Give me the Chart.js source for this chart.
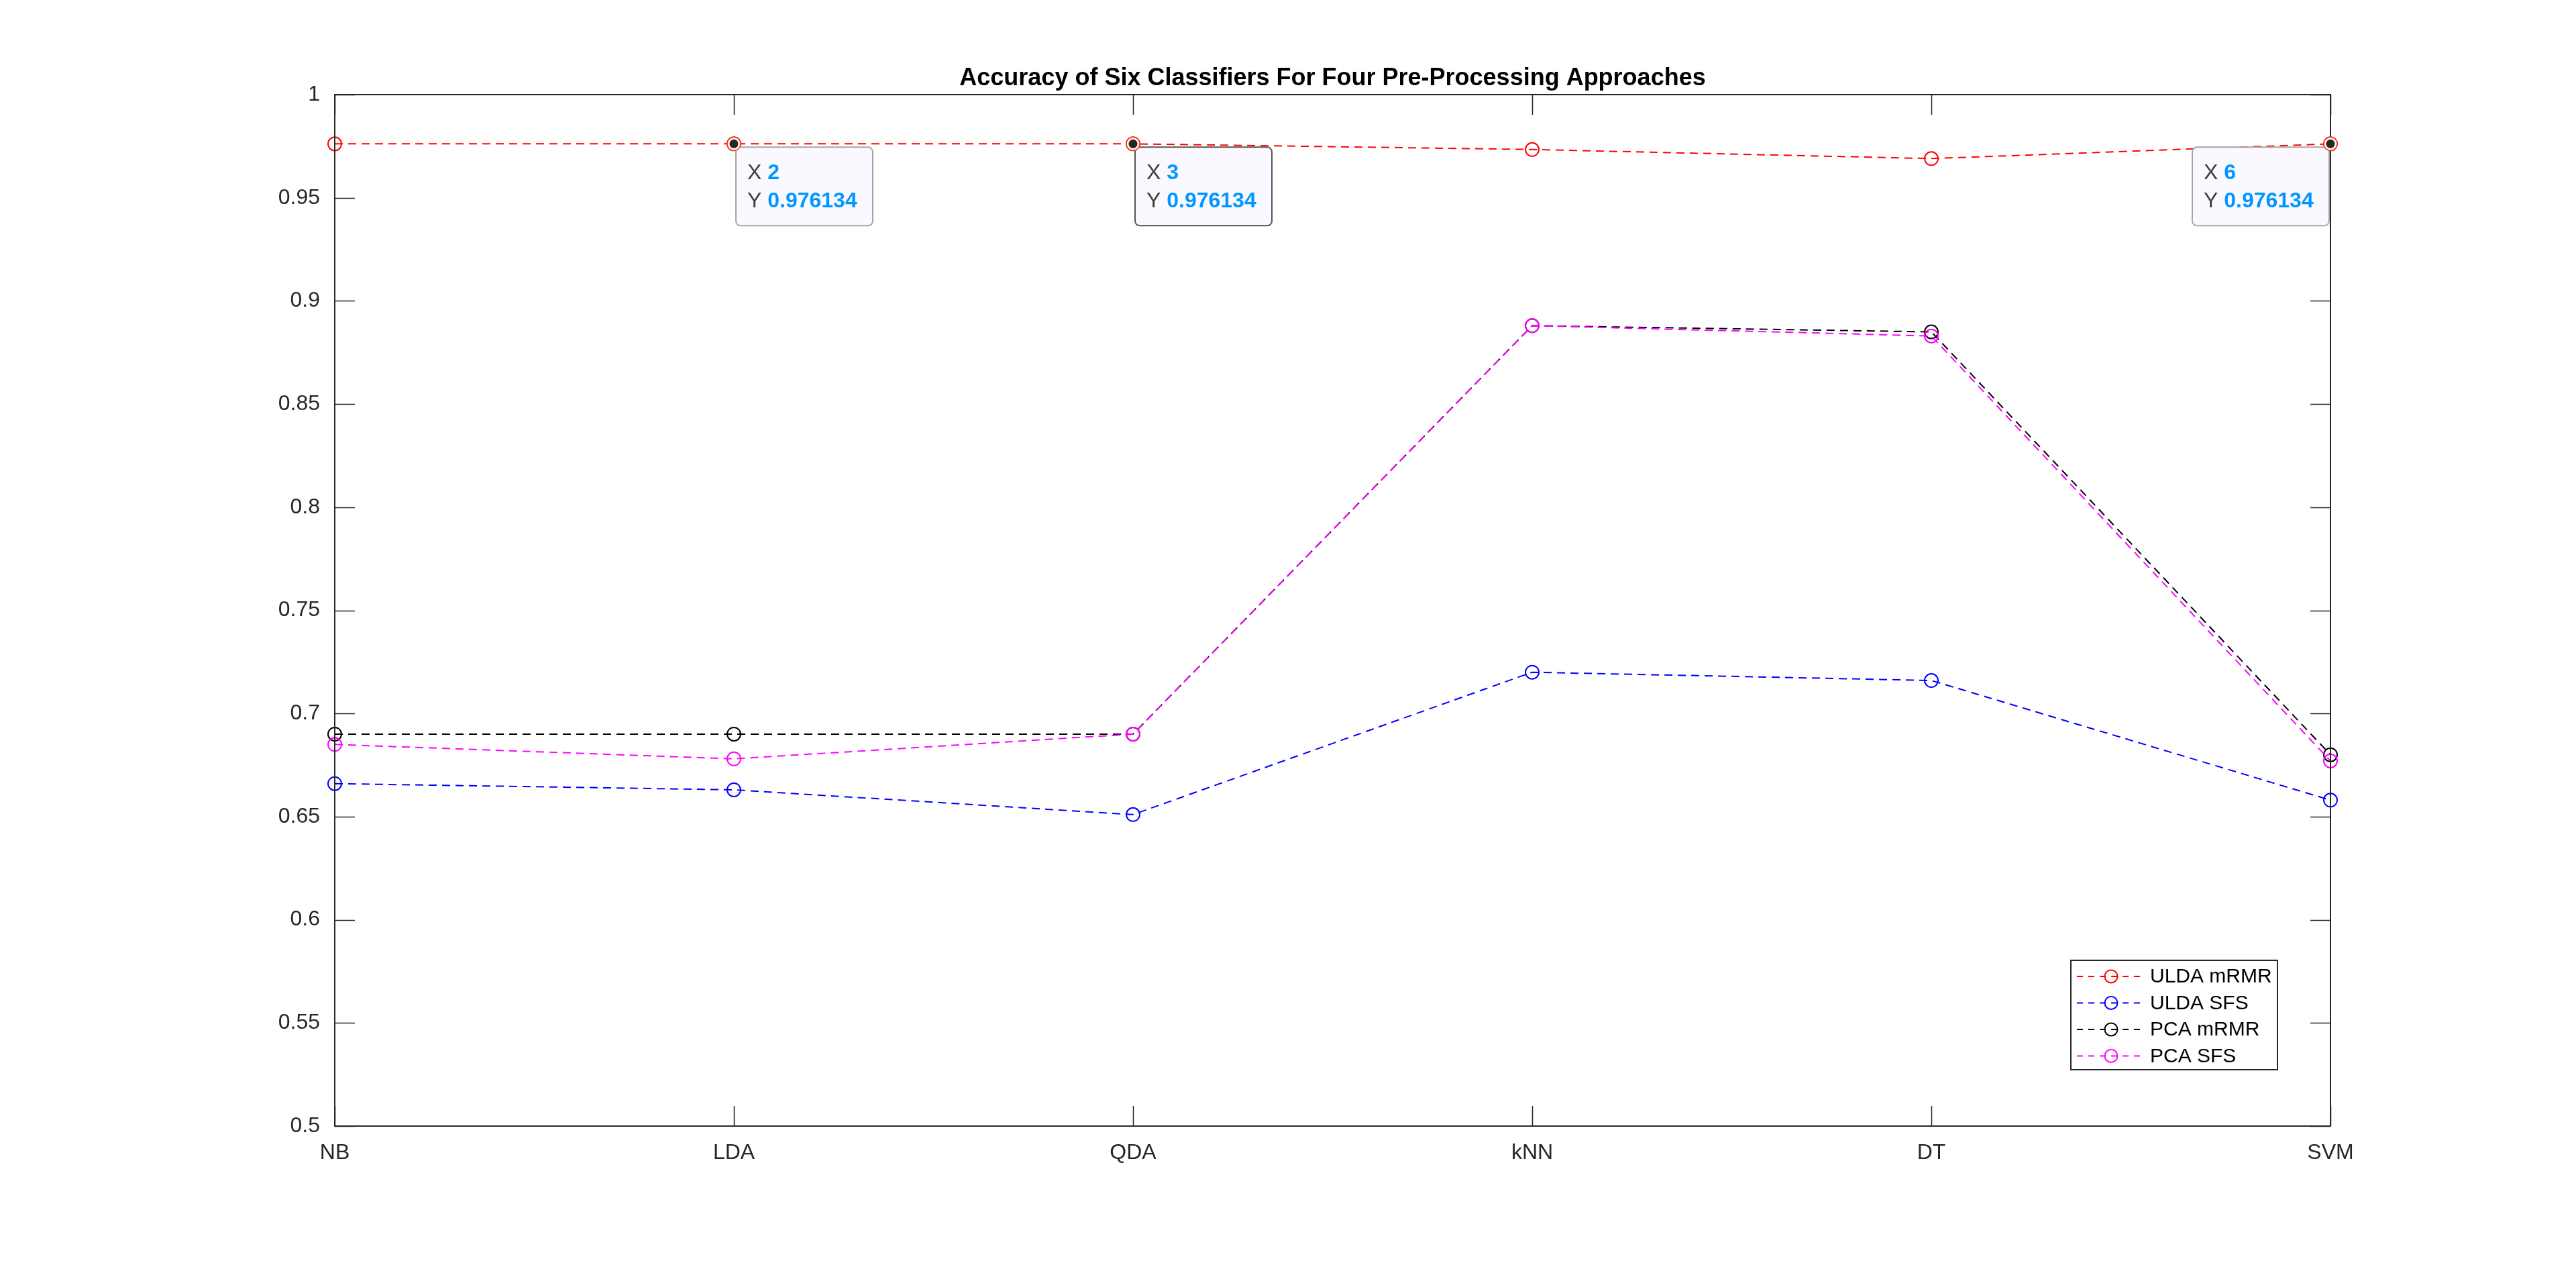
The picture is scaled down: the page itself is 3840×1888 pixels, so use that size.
<!DOCTYPE html>
<html>
<head>
<meta charset="utf-8">
<title>Accuracy of Six Classifiers</title>
<script src="https://cdn.jsdelivr.net/npm/chart.js@4.4.1/dist/chart.umd.min.js"></script>
<style>
  html, body { margin: 0; padding: 0; background: #fff; }
  canvas { display: block; }
</style>
</head>
<body>
<canvas id="accChart" width="3840" height="1888" style="width:3840px;height:1888px"></canvas>
<script>
// Chart data
const classifiers = ['NB', 'LDA', 'QDA', 'kNN', 'DT', 'SVM'];
const uldaMrmr = [0.976134, 0.976134, 0.976134, 0.9734, 0.969, 0.976134];
const uldaSfs  = [0.666, 0.663, 0.651, 0.720, 0.716, 0.658];
const pcaMrmr  = [0.690, 0.690, 0.690, 0.888, 0.885, 0.680];
const pcaSfs   = [0.685, 0.678, 0.690, 0.888, 0.883, 0.677];
const yTicks   = [0.5, 0.55, 0.6, 0.65, 0.7, 0.75, 0.8, 0.85, 0.9, 0.95, 1];
const seriesNames = ['ULDA mRMR', 'ULDA SFS', 'PCA mRMR', 'PCA SFS'];
const seriesColors = ['#ff0000', '#0000ff', '#000000', '#ff00ff'];
const tipIndexes = [1, 2, 5]; // data tips on the ULDA mRMR line
const chartTitle = 'Accuracy of Six Classifiers For Four Pre-Processing Approaches';

const FONT = '"Liberation Sans", Arial, Helvetica, sans-serif';
const AXIS = '#262626';
const DASH = [12, 8];

function makeSet(i, data) {
  return {
    label: seriesNames[i],
    data: data,
    borderColor: seriesColors[i],
    backgroundColor: 'rgba(0,0,0,0)',
    borderWidth: 2,
    borderDash: DASH,
    pointStyle: 'circle',
    pointRadius: 10,
    pointBorderWidth: 2,
    pointBorderColor: seriesColors[i],
    pointBackgroundColor: 'rgba(0,0,0,0)',
    tension: 0,
    fill: false,
    clip: false,
    order: 4 - i // later series drawn on top, like MATLAB
  };
}

// box, inward ticks, title, legend and data tips
const matlabLook = {
  id: 'matlabLook',
  afterDraw(chart) {
    const ctx = chart.ctx;
    const a = chart.chartArea;
    const xs = chart.scales.x, ys = chart.scales.y;
    ctx.save();

    // ticks (all four sides, pointing in)
    ctx.strokeStyle = AXIS;
    ctx.lineWidth = 1.5;
    ctx.setLineDash([]);
    ctx.beginPath();
    classifiers.forEach((c, i) => {
      const x = Math.round(xs.getPixelForValue(i)) + 0.5;
      ctx.moveTo(x, a.bottom); ctx.lineTo(x, a.bottom - 30);
      ctx.moveTo(x, a.top); ctx.lineTo(x, a.top + 30);
    });
    yTicks.forEach(v => {
      const y = Math.round(ys.getPixelForValue(v)) + 0.5;
      ctx.moveTo(a.left, y); ctx.lineTo(a.left + 30, y);
      ctx.moveTo(a.right, y); ctx.lineTo(a.right - 30, y);
    });
    ctx.stroke();

    // axes box
    ctx.lineWidth = 2;
    ctx.strokeRect(a.left, a.top, a.right - a.left, a.bottom - a.top);

    // title
    ctx.fillStyle = '#000';
    ctx.font = 'bold 36px ' + FONT;
    ctx.textAlign = 'center';
    ctx.textBaseline = 'middle';
    ctx.fillText(chartTitle, (a.left + a.right) / 2, 117);

    // legend
    const lg = { left: 3087, top: 1431, w: 308, h: 163 };
    ctx.fillStyle = '#fff';
    ctx.fillRect(lg.left, lg.top, lg.w, lg.h);
    ctx.strokeStyle = AXIS;
    ctx.lineWidth = 2;
    ctx.strokeRect(lg.left, lg.top, lg.w, lg.h);
    ctx.font = '30px ' + FONT;
    ctx.textAlign = 'left';
    chart.data.datasets.forEach((ds, i) => {
      const y = lg.top + 24 + i * 39.5;
      ctx.strokeStyle = ds.borderColor;
      ctx.lineWidth = 2;
      ctx.setLineDash([9, 8]);
      ctx.beginPath();
      ctx.moveTo(lg.left + 9, y); ctx.lineTo(lg.left + 109, y);
      ctx.stroke();
      ctx.setLineDash([]);
      ctx.beginPath();
      ctx.arc(lg.left + 60, y, 9.5, 0, Math.PI * 2);
      ctx.stroke();
      ctx.fillStyle = '#000';
      ctx.fillText(ds.label, lg.left + 118, y + 1);
    });

    // data tips
    const meta = chart.getDatasetMeta(0);
    tipIndexes.forEach(idx => {
      const px = xs.getPixelForValue(idx);
      const py = ys.getPixelForValue(uldaMrmr[idx]);
      const w = 204, h = 117;
      const bx = idx === classifiers.length - 1 ? px - 2 - w : px + 3;
      const by = py + 5;
      ctx.beginPath();
      ctx.roundRect(bx, by, w, h, 7);
      ctx.fillStyle = '#f9f9ff';
      ctx.fill();
      ctx.strokeStyle = idx === 2 ? '#555555' : '#a6a6a6';
      ctx.lineWidth = 2;
      ctx.stroke();

      ctx.textBaseline = 'middle';
      ctx.textAlign = 'left';
      const rows = [['X', String(idx + 1)], ['Y', String(uldaMrmr[idx])]];
      rows.forEach((r, k) => {
        const ty = by + 39 + k * 42;
        ctx.font = '32px ' + FONT;
        ctx.fillStyle = '#404040';
        ctx.fillText(r[0] + ' ', bx + 17, ty);
        const off = ctx.measureText(r[0] + ' ').width;
        ctx.font = 'bold 32px ' + FONT;
        ctx.fillStyle = '#0096ff';
        ctx.fillText(r[1], bx + 17 + off, ty);
      });

      // marker of the tip
      const pt = meta.data[idx];
      ctx.beginPath();
      ctx.arc(pt.x, pt.y, 10, 0, Math.PI * 2);
      ctx.fillStyle = '#fffbe0';
      ctx.fill();
      ctx.strokeStyle = '#ff3030';
      ctx.lineWidth = 1.5;
      ctx.stroke();
      ctx.beginPath();
      ctx.arc(pt.x, pt.y, 6.5, 0, Math.PI * 2);
      ctx.fillStyle = '#262626';
      ctx.fill();
    });

    ctx.restore();
  }
};

new Chart(document.getElementById('accChart'), {
  type: 'line',
  data: {
    labels: classifiers,
    datasets: [makeSet(0, uldaMrmr), makeSet(1, uldaSfs), makeSet(2, pcaMrmr), makeSet(3, pcaSfs)]
  },
  options: {
    responsive: false,
    devicePixelRatio: 1,
    animation: false,
    layout: { padding: { top: 141, right: 366, left: 0, bottom: 0 } },
    plugins: { legend: { display: false }, title: { display: false }, tooltip: { enabled: false } },
    scales: {
      x: {
        type: 'category',
        offset: false,
        grid: { display: false },
        border: { display: false },
        ticks: { color: AXIS, font: { family: FONT, size: 32 }, padding: 13, maxRotation: 0, autoSkip: false },
        afterFit: s => { s.height = 210; }
      },
      y: {
        min: 0.5,
        max: 1,
        grid: { display: false },
        border: { display: false },
        afterBuildTicks: s => { s.ticks = yTicks.map(v => ({ value: v })); },
        ticks: {
          color: AXIS,
          font: { family: FONT, size: 32 },
          padding: 14,
          callback: v => String(+Number(v).toFixed(2))
        },
        afterFit: s => { s.width = 499; }
      }
    }
  },
  plugins: [matlabLook]
});
</script>
</body>
</html>
